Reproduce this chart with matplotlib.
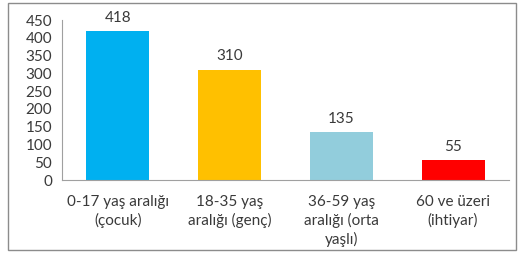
import matplotlib.pyplot as plt
from matplotlib.patches import Rectangle

kategoriler = [
    "0-17 yaş aralığı\n(çocuk)",
    "18-35 yaş\naralığı (genç)",
    "36-59 yaş\naralığı (orta\nyaşlı)",
    "60 ve üzeri\n(ihtiyar)",
]
degerler = [418, 310, 135, 55]
renkler = ["#00B0F0", "#FFC000", "#92CDDC", "#FF0000"]
y_ticks = [0, 50, 100, 150, 200, 250, 300, 350, 400, 450]

plt.rcParams["font.family"] = ["Lato", "DejaVu Sans"]

W, H = 521, 257
fig = plt.figure(figsize=(W / 100, H / 100), dpi=100)
fig.patch.set_facecolor("white")

# çerçeve
fig.patches.append(
    Rectangle((8 / W, 1 - 250 / H), 508 / W, 247 / H, transform=fig.transFigure,
              fill=False, edgecolor="#8c8c8c", linewidth=1.0)
)

ax = fig.add_axes([62 / W, 1 - 180 / H, 447 / W, 160 / H])
x = range(len(kategoriler))
ax.bar(x, degerler, width=0.565, color=renkler)
for xi, v in zip(x, degerler):
    ax.text(xi, v + 18, str(v), ha="center", va="bottom", fontsize=11, color="#3a3a3a")

ax.set_xlim(-0.5, 3.5)
ax.set_ylim(0, 450)
ax.set_yticks(y_ticks)
ax.set_xticks(list(x))
ax.set_xticklabels(kategoriler, fontsize=11, color="#3a3a3a", linespacing=1.3, va="top")
ax.tick_params(axis="y", labelsize=11, colors="#3a3a3a", length=0, pad=7)
ax.tick_params(axis="x", length=0, pad=11)
for s in ["top", "right"]:
    ax.spines[s].set_visible(False)
for s in ["left", "bottom"]:
    ax.spines[s].set_color("#a0a0a0")
    ax.spines[s].set_linewidth(0.8)

fig.savefig("out.png", dpi=100)
